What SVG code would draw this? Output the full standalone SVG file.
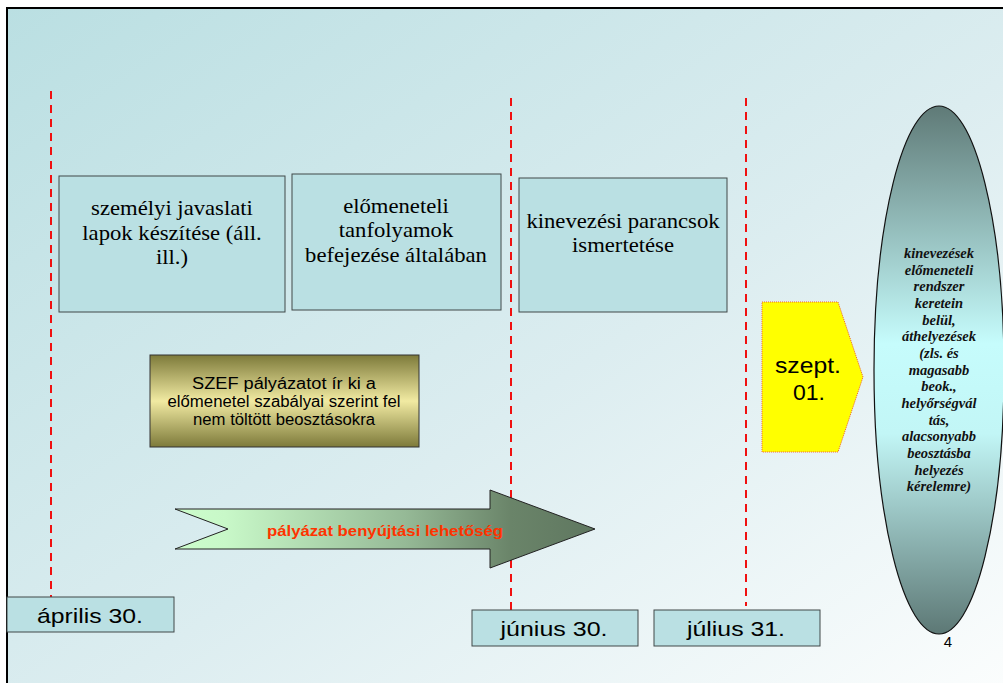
<svg xmlns="http://www.w3.org/2000/svg" width="1003" height="683" viewBox="0 0 1003 683">
  <defs>
    <linearGradient id="bg" x1="0" y1="0" x2="1" y2="1">
      <stop offset="0" stop-color="#badfe2"/>
      <stop offset="0.55" stop-color="#dcedf0"/>
      <stop offset="1" stop-color="#fbfdfd"/>
    </linearGradient>
    <linearGradient id="olive" x1="0" y1="0" x2="0" y2="1">
      <stop offset="0" stop-color="#7d7a3a"/>
      <stop offset="0.5" stop-color="#f1eaa2"/>
      <stop offset="1" stop-color="#7d7a3a"/>
    </linearGradient>
    <linearGradient id="arrowFill" x1="0" y1="0" x2="1" y2="0">
      <stop offset="0" stop-color="#ccfdcc"/>
      <stop offset="0.12" stop-color="#c8f8c8"/>
      <stop offset="0.55" stop-color="#95b996"/>
      <stop offset="0.8" stop-color="#6a8469"/>
      <stop offset="1" stop-color="#5f7760"/>
    </linearGradient>
    <linearGradient id="oval" x1="0" y1="0" x2="0" y2="1">
      <stop offset="0" stop-color="#5f7a77"/>
      <stop offset="0.45" stop-color="#c6fcfc"/>
      <stop offset="0.62" stop-color="#c2f6f6"/>
      <stop offset="1" stop-color="#5d7875"/>
    </linearGradient>
    <style>
      .box { fill: #bae0e3; stroke: #404848; stroke-width: 1; }
      .serif { font-family: "Liberation Serif", "Times New Roman", serif; font-size: 21px; fill: #000; text-anchor: middle; }
      .sans { font-family: "Liberation Sans", Arial, sans-serif; fill: #000; text-anchor: middle; }
      .date { font-size: 21px; }
      .oval { font-family: "Liberation Serif", "Times New Roman", serif; font-size: 14.5px; font-style: italic; font-weight: bold; fill: #111; text-anchor: middle; }
      .dash { stroke: #f01010; stroke-width: 2; stroke-dasharray: 8 6; fill: none; }
    </style>
  </defs>

  <!-- slide background and frame -->
  <rect x="0" y="0" width="1003" height="683" fill="#ffffff"/>
  <rect x="7" y="8" width="1000" height="680" fill="url(#bg)"/>
  <path d="M7,683 L7,8 L1003,8" fill="none" stroke="#000" stroke-width="2"/>

  <!-- date marker lines -->
  <g id="connectors">
    <line class="dash" x1="51" y1="91" x2="51" y2="597"/>
    <line class="dash" x1="511" y1="98" x2="511" y2="610"/>
    <line class="dash" x1="746" y1="98" x2="746" y2="606"/>
  </g>

  <g id="javaslat">
    <rect class="box" x="59" y="176" width="226" height="136"/>
    <g transform="translate(172,0) scale(1.08,1)">
      <text class="serif" x="0" y="215">személyi javaslati</text>
      <text class="serif" x="0" y="240">lapok készítése (áll.</text>
      <text class="serif" x="0" y="264">ill.)</text>
    </g>
  </g>

  <g id="tanfolyam">
    <rect class="box" x="292" y="174" width="209" height="136"/>
    <g transform="translate(396,0) scale(1.08,1)">
      <text class="serif" x="0" y="213">előmeneteli</text>
      <text class="serif" x="0" y="237">tanfolyamok</text>
      <text class="serif" x="0" y="262">befejezése általában</text>
    </g>
  </g>

  <g id="parancs">
    <rect class="box" x="519" y="178" width="208" height="134"/>
    <g transform="translate(623,0) scale(1.08,1)">
      <text class="serif" x="0" y="228">kinevezési parancsok</text>
      <text class="serif" x="0" y="252">ismertetése</text>
    </g>
  </g>

  <g id="szef">
    <rect x="150" y="355" width="269" height="92" fill="url(#olive)" stroke="#333" stroke-width="1"/>
    <text class="sans" font-size="16" x="284" y="389" textLength="184" lengthAdjust="spacingAndGlyphs">SZEF pályázatot ír ki a</text>
    <text class="sans" font-size="16" x="284" y="407" textLength="233" lengthAdjust="spacingAndGlyphs">előmenetel szabályai szerint fel</text>
    <text class="sans" font-size="16" x="284" y="425" textLength="182" lengthAdjust="spacingAndGlyphs">nem töltött beosztásokra</text>
  </g>

  <g id="palyazat">
    <path d="M175,509 L490,509 L490,490 L595,529 L490,568 L490,549 L175,549 L228,529 Z" fill="url(#arrowFill)" stroke="#222" stroke-width="1"/>
    <text class="sans" font-size="15" font-weight="bold" x="385" y="536" textLength="236" lengthAdjust="spacingAndGlyphs" style="fill:#ff3300">pályázat benyújtási lehetőség</text>
  </g>

  <g id="szept">
    <path d="M762,302 L838,302 L863,377 L838,452 L762,452 Z" fill="#ffff00" stroke="#f06030" stroke-width="1" stroke-dasharray="1 1"/>
    <text class="sans" font-size="22" x="808" y="373" textLength="66" lengthAdjust="spacingAndGlyphs">szept.</text>
    <text class="sans" font-size="22" x="809" y="400" textLength="32" lengthAdjust="spacingAndGlyphs">01.</text>
  </g>

  <g id="kinevezesek">
    <ellipse cx="939" cy="370" rx="65" ry="264" fill="url(#oval)" stroke="#111" stroke-width="1.2"/>
    <text class="oval" x="939" y="258">kinevezések</text>
    <text class="oval" x="939" y="275">előmeneteli</text>
    <text class="oval" x="939" y="291">rendszer</text>
    <text class="oval" x="939" y="308">keretein</text>
    <text class="oval" x="939" y="325">belül,</text>
    <text class="oval" x="939" y="341">áthelyezések</text>
    <text class="oval" x="939" y="358">(zls. és</text>
    <text class="oval" x="939" y="375">magasabb</text>
    <text class="oval" x="939" y="391">beok.,</text>
    <text class="oval" x="939" y="408">helyőrségvál</text>
    <text class="oval" x="939" y="425">tás,</text>
    <text class="oval" x="939" y="441">alacsonyabb</text>
    <text class="oval" x="939" y="458">beosztásba</text>
    <text class="oval" x="939" y="475">helyezés</text>
    <text class="oval" x="939" y="491">kérelemre)</text>
  </g>

  <g id="aprilis">
    <rect class="box" x="7" y="597" width="167" height="35"/>
    <text class="sans date" x="90" y="623" textLength="106" lengthAdjust="spacingAndGlyphs">április 30.</text>
  </g>

  <g id="junius">
    <rect class="box" x="472" y="610" width="166" height="36"/>
    <text class="sans date" x="554" y="636" textLength="107" lengthAdjust="spacingAndGlyphs">június 30.</text>
  </g>

  <g id="julius">
    <rect class="box" x="654" y="610" width="166" height="36"/>
    <text class="sans date" x="736" y="636" textLength="98" lengthAdjust="spacingAndGlyphs">július 31.</text>
  </g>

  <text class="sans" font-size="15" x="948" y="647">4</text>
</svg>
